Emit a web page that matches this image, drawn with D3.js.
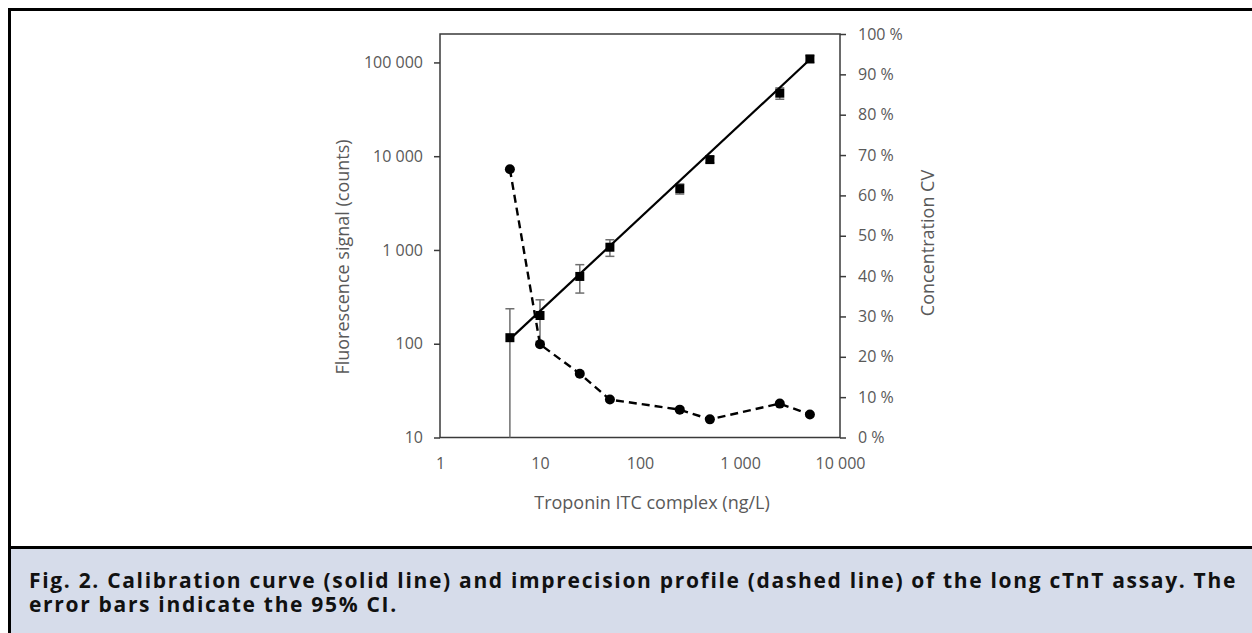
<!DOCTYPE html>
<html>
<head>
<meta charset="utf-8">
<script src="https://cdn.jsdelivr.net/npm/d3@7"></script>
<style>
  html, body { margin: 0; padding: 0; background: #fff; }
  svg { display: block; }
</style>
</head>
<body>
<svg id="chart" width="1252" height="633"></svg>
<script>
// ---------- data ----------
const conc       = [5, 10, 25, 50, 250, 500, 2500, 5000];          // ng/L
const signal     = [116, 200, 522, 1070, 4500, 9200, 47000, 109000]; // counts
const signalCI   = [120, 94, 175, 215, 550, 700, 6500, 9000];       // ± 95% CI
const cv         = [0.665, 0.231, 0.158, 0.094, 0.069, 0.045, 0.084, 0.057];
const fitConc    = [5, 5000];
const fitSignal  = [112, 107500];
const xTicks     = [1, 10, 100, 1000, 10000];
const yLeftTicks = [10, 100, 1000, 10000, 100000];
const yRightTicks = [0, 0.1, 0.2, 0.3, 0.4, 0.5, 0.6, 0.7, 0.8, 0.9, 1.0];
const captionLine1 = "Fig. 2. Calibration curve (solid line) and imprecision profile (dashed line) of the long cTnT assay. The";
const captionLine2 = "error bars indicate the 95% CI.";

// ---------- layout ----------
const svg = d3.select("#chart");
const L = 440, R = 840, T = 34, B = 437.5;
const font = "'Open Sans', 'Noto Sans', sans-serif";
const gray = "#595959";

const x  = d3.scaleLog().domain([1, 10000]).range([L, R]);
const yL = d3.scaleLog().domain([10, 201000]).range([B, T]);
const yR = d3.scaleLinear().domain([0, 1]).range([B, T]);
const fmt = v => d3.format(",")(v).replace(/,/g, " ");

// frame + caption box
svg.append("rect").attr("x", 10).attr("y", 547.5).attr("width", 1242).attr("height", 86)
  .attr("fill", "#d6dcea");
svg.append("line").attr("x1", 8).attr("x2", 1252).attr("y1", 9.5).attr("y2", 9.5)
  .attr("stroke", "#000").attr("stroke-width", 3);
svg.append("line").attr("x1", 9.5).attr("x2", 9.5).attr("y1", 8).attr("y2", 633)
  .attr("stroke", "#000").attr("stroke-width", 3);
svg.append("line").attr("x1", 8).attr("x2", 1252).attr("y1", 547.5).attr("y2", 547.5)
  .attr("stroke", "#000").attr("stroke-width", 3);

// caption (fit first line to the reference width 29 → 1237)
const cap = svg.append("g").attr("font-family", font).attr("font-weight", 700)
  .attr("font-size", 21).attr("fill", "#111");
const c1 = cap.append("text").attr("x", 29).attr("y", 588).text(captionLine1);
const c2 = cap.append("text").attr("x", 29).attr("y", 612).text(captionLine2);
const w1 = c1.node().getComputedTextLength();
const ls = (1208 - w1) / captionLine1.length;
c1.attr("letter-spacing", ls);
c2.attr("letter-spacing", ls);

// plot box
const axisColor = "#3a3a3a";
svg.append("rect").attr("x", L).attr("y", T).attr("width", R - L).attr("height", B - T)
  .attr("fill", "none").attr("stroke", axisColor).attr("stroke-width", 1.5);

// left axis
const gL = svg.append("g").attr("transform", `translate(${L},0)`)
  .call(d3.axisLeft(yL).tickValues(yLeftTicks).tickFormat(fmt).tickSize(6).tickPadding(11));
// right axis
const gR = svg.append("g").attr("transform", `translate(${R},0)`)
  .call(d3.axisRight(yR).tickValues(yRightTicks).tickFormat(v => Math.round(v * 100) + " %").tickSize(6).tickPadding(12));
// bottom axis (labels only)
const gB = svg.append("g").attr("transform", `translate(0,${B})`)
  .call(d3.axisBottom(x).tickValues(xTicks).tickFormat(fmt).tickSize(0).tickPadding(20));

[gL, gR, gB].forEach(g => {
  g.select(".domain").remove();
  g.selectAll(".tick line").attr("stroke", axisColor).attr("stroke-width", 1.5);
  g.selectAll(".tick text").attr("font-family", font).attr("font-size", 16).attr("fill", gray);
});

// axis titles
svg.append("text").attr("x", 652).attr("y", 509).attr("text-anchor", "middle")
  .attr("font-family", font).attr("font-size", 18).attr("fill", gray)
  .text("Troponin ITC complex (ng/L)");
svg.append("text").attr("transform", `translate(349,257) rotate(-90)`)
  .attr("text-anchor", "middle").attr("font-family", font).attr("font-size", 18).attr("fill", gray)
  .text("Fluorescence signal (counts)");
svg.append("text").attr("transform", `translate(934,243) rotate(-90)`)
  .attr("text-anchor", "middle").attr("font-family", font).attr("font-size", 18).attr("fill", gray)
  .text("Concentration CV");

// error bars
const pts = conc.map((c, i) => ({c, s: signal[i], ci: signalCI[i], cv: cv[i]}));
const eb = svg.append("g").attr("stroke", "#6f6f6f").attr("stroke-width", 1.5);
pts.forEach(d => {
  const hi = yL(d.s + d.ci);
  const lo = d.s - d.ci > 10 ? yL(d.s - d.ci) : B;
  const cx = x(d.c);
  eb.append("line").attr("x1", cx).attr("x2", cx).attr("y1", hi).attr("y2", lo);
  eb.append("line").attr("x1", cx - 4.5).attr("x2", cx + 4.5).attr("y1", hi).attr("y2", hi);
  if (lo < B) eb.append("line").attr("x1", cx - 4.5).attr("x2", cx + 4.5).attr("y1", lo).attr("y2", lo);
});

// calibration fit (solid)
svg.append("path")
  .datum(fitConc.map((c, i) => [c, fitSignal[i]]))
  .attr("fill", "none").attr("stroke", "#000").attr("stroke-width", 2.2)
  .attr("d", d3.line().x(d => x(d[0])).y(d => yL(d[1])));

// imprecision profile (dashed)
svg.append("path")
  .datum(pts)
  .attr("fill", "none").attr("stroke", "#000").attr("stroke-width", 2.4)
  .attr("stroke-dasharray", "8,5")
  .attr("d", d3.line().x(d => x(d.c)).y(d => yR(d.cv)));

svg.append("g").selectAll("circle").data(pts).join("circle")
  .attr("cx", d => x(d.c)).attr("cy", d => yR(d.cv)).attr("r", 5).attr("fill", "#000");

svg.append("g").selectAll("rect").data(pts).join("rect")
  .attr("x", d => x(d.c) - 4.5).attr("y", d => yL(d.s) - 4.5)
  .attr("width", 9).attr("height", 9).attr("fill", "#000");
</script>
</body>
</html>
